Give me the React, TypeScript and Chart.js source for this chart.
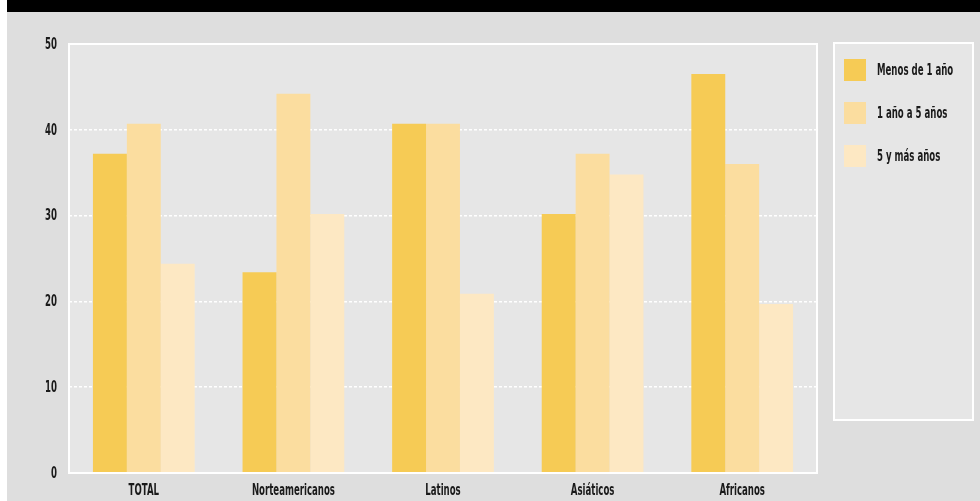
import React, { useEffect, useRef } from "react";
import { Chart, registerables } from "chart.js";

Chart.register(...registerables);

const categories = ["TOTAL", "Norteamericanos", "Latinos", "Asiáticos", "Africanos"];
const seriesNames = ["Menos de 1 año", "1 año a 5 años", "5 y más años"];
const menosDe1 = [37.2, 23.4, 40.7, 30.2, 46.5];
const de1a5 = [40.7, 44.2, 40.7, 37.2, 36.0];
const cincoYMas = [24.4, 30.2, 20.9, 34.8, 19.7];
const yTicks = [0, 10, 20, 30, 40, 50];

const colors = ["#f6cb55", "#fbdd9f", "#fde8c3"];
const FONT = "'DejaVu Sans Condensed', 'Liberation Sans Narrow', sans-serif";
const TEXT = "#1a1a1a";

function condensedText(ctx: any, text: string, x: number, y: number, align: string, sx: number) {
  ctx.save();
  ctx.translate(x, y);
  ctx.scale(sx, 1);
  ctx.textAlign = align;
  ctx.fillText(text, 0, 0);
  ctx.restore();
}

const decor = {
  id: "decor",
  beforeDraw(chart: any) {
    const { ctx, width, height, chartArea: a } = chart;
    ctx.save();
    ctx.fillStyle = "#ffffff";
    ctx.fillRect(0, 0, width, height);
    ctx.fillStyle = "#dedede";
    ctx.fillRect(7, 0, width - 7, height);
    ctx.fillStyle = "#000000";
    ctx.fillRect(7, 0, width - 7, 12);
    ctx.fillStyle = "#e6e6e6";
    ctx.fillRect(a.left, a.top, a.right - a.left, a.bottom - a.top);
    ctx.restore();
  },
  afterDraw(chart: any) {
    const { ctx, chartArea: a, scales } = chart;
    ctx.save();
    ctx.strokeStyle = "#ffffff";
    ctx.lineWidth = 2;
    ctx.strokeRect(a.left, a.top, a.right - a.left, a.bottom - a.top);

    ctx.font = `bold 15px ${FONT}`;
    ctx.fillStyle = TEXT;
    ctx.textBaseline = "middle";
    const sx = 83 / ctx.measureText("Norteamericanos").width;

    // y tick labels
    yTicks.forEach((v) => {
      condensedText(ctx, String(v), a.left - 12, scales.y.getPixelForValue(v) + 1, "right", sx);
    });
    // x labels
    categories.forEach((c, i) => {
      condensedText(ctx, c, scales.x.getPixelForValue(i), a.bottom + 18, "center", sx);
    });

    // legend
    const lx = a.right + 17;
    const ly = a.top - 1;
    const lw = 139;
    const lh = 377;
    ctx.fillStyle = "#e6e6e6";
    ctx.fillRect(lx, ly, lw, lh);
    ctx.strokeRect(lx, ly, lw, lh);
    chart.data.datasets.forEach((ds: any, i: number) => {
      const cy = ly + 27 + i * 43;
      ctx.fillStyle = ds.backgroundColor;
      ctx.fillRect(lx + 10, cy - 11, 22, 22);
      ctx.fillStyle = TEXT;
      condensedText(ctx, ds.label, lx + 43, cy + 1, "left", sx);
    });
    ctx.restore();
  },
};

export default function App() {
  const ref = useRef<HTMLCanvasElement>(null);
  useEffect(() => {
    if (!ref.current) return;
    const series = [menosDe1, de1a5, cincoYMas];
    const chart = new Chart(ref.current, {
      type: "bar",
      data: {
        labels: categories,
        datasets: series.map((d, i) => ({
          label: seriesNames[i],
          data: d,
          backgroundColor: colors[i],
          borderWidth: 0,
          categoryPercentage: 0.68,
          barPercentage: 1.0,
        })),
      },
      options: {
        animation: false,
        responsive: false,
        maintainAspectRatio: false,
        layout: { padding: { top: 44, right: 163, left: 0, bottom: 0 } },
        plugins: { legend: { display: false }, tooltip: { enabled: false } },
        scales: {
          x: {
            grid: { display: false, drawTicks: false },
            border: { display: false },
            ticks: { display: false },
            afterFit(s: any) { s.height = 28; },
          },
          y: {
            min: 0,
            max: 50,
            afterBuildTicks(s: any) { s.ticks = yTicks.map((v) => ({ value: v })); },
            grid: {
              drawTicks: false,
              lineWidth: 1.5,
              color: (c: any) => (c.tick && c.tick.value > 0 && c.tick.value < 50 ? "#ffffff" : "rgba(0,0,0,0)"),
            },
            border: { display: false, dash: [3, 2] },
            ticks: { display: false },
            afterFit(s: any) { s.width = 69; },
          },
        },
      },
      plugins: [decor],
    });
    return () => chart.destroy();
  }, []);
  return (
    <div style={{ position: "fixed", left: 0, top: 0, width: 980, height: 501 }}>
      <canvas ref={ref} width={980} height={501} style={{ width: 980, height: 501 }} />
    </div>
  );
}
